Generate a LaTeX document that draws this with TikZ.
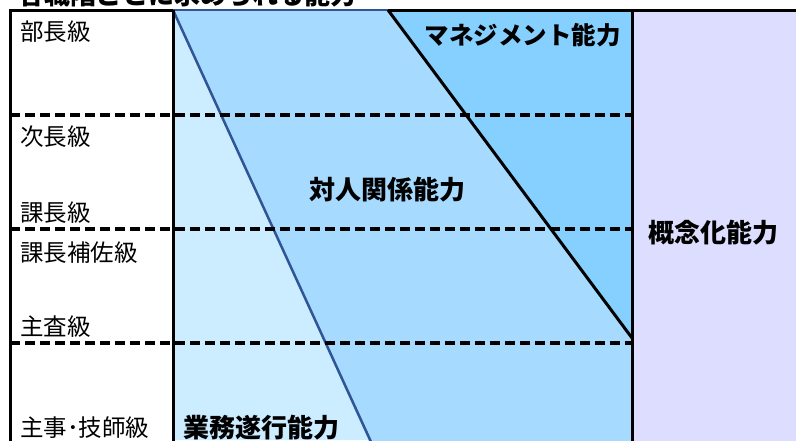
\documentclass[tikz,border=0pt]{standalone}
\usepackage{fontspec}
\setmainfont{Noto Sans CJK JP}
\definecolor{zoneA}{RGB}{204,236,255}
\definecolor{zoneB}{RGB}{166,218,255}
\definecolor{zoneC}{RGB}{133,208,255}
\definecolor{zoneD}{RGB}{221,221,255}
\definecolor{darkblue}{RGB}{47,85,151}
\tikzset{
  lvl/.style={anchor=west, inner sep=0pt, font=\fontsize{23.5}{28}\selectfont},
  skill/.style={inner sep=0pt, font=\bfseries\fontsize{26}{30}\selectfont},
  blk/.style={line width=3pt, black},
  sep/.style={line width=3.5pt, black, dash pattern=on 10pt off 5pt},
}
\begin{document}
\begin{tikzpicture}[x=1pt,y=-1pt]
\useasboundingbox (0,0) rectangle (796,440);
\fill[white] (0,0) rectangle (796,440);
% zones
\fill[zoneD] (632,10) rectangle (800,444);
\fill[zoneA] (173,10) -- (368,440) -- (173,440) -- cycle;
\fill[zoneB] (173,10) -- (388,10) -- (632,338) -- (632,444) -- (370,444) -- cycle;
\fill[zoneC] (388,10) -- (632,10) -- (632,338) -- cycle;
% title (cut off at top)
\node[anchor=base west, inner sep=0pt, font=\bfseries\fontsize{26}{30}\selectfont] (title) at (18,4) {各職階ごとに求められる能力};
% lines
\draw[line width=2.5pt, darkblue] (173,10) -- (372,444);
\draw[line width=2.5pt, darkblue] (173,10) -- (388,10);
\draw[blk] (388,10) -- (632,338);
\draw[sep] (10,115) -- (632,115);
\draw[sep] (10,229) -- (632,229);
\draw[sep] (10,343) -- (632,343);
\draw[blk] (10,444) -- (10,10) -- (173,10);
\draw[blk] (388,10) -- (800,10);
\draw[blk] (173,10) -- (173,444);
\draw[blk] (632,10) -- (632,444);
% level labels
\node[lvl] (bucho) at (20,32) {部長級};
\node[lvl] (jicho) at (20,137) {次長級};
\node[lvl] (kacho) at (20,213) {課長級};
\node[lvl] (hosa) at (20,253) {課長補佐級};
\node[lvl] (shusa) at (20,327) {主査級};
\node[lvl] (shuji) at (20,428) {主事･技師級};
% skill labels
\node[skill, anchor=west] (gyomu) at (183,428) {業務遂行能力};
\node[skill] (taijin) at (387,190) {対人関係能力};
\node[skill, anchor=east, font=\bfseries\fontsize{24.5}{30}\selectfont] (mgmt) at (621,35) {マネジメント能力};
\node[skill] (gainen) at (713,233) {概念化能力};
\end{tikzpicture}
\end{document}
